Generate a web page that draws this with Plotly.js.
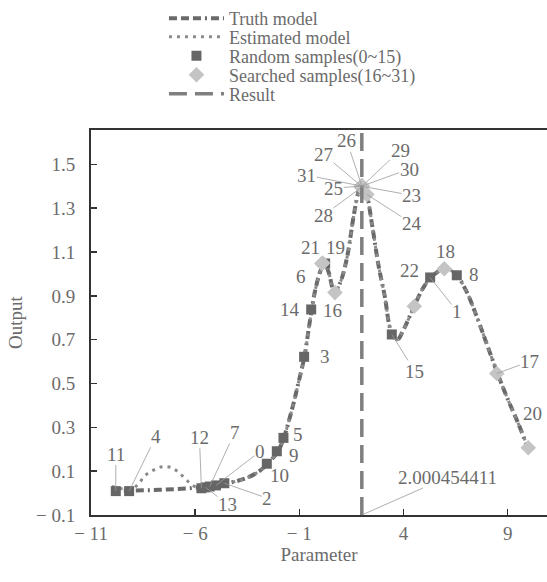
<!DOCTYPE html>
<html>
<head>
<meta charset="utf-8">
<script src="https://cdn.plot.ly/plotly-3.0.1.min.js"></script>
<style>html,body{margin:0;padding:0;background:#fff;overflow:hidden}#chart{width:547px;height:582px}</style>
</head>
<body>
<div id="chart"></div>
<script>
// ---- data ----
var truthX = [-10,-9,-8,-7,-6,-5,-4,-3.5,-3,-2.5,-2,-1.75,-1.5,-1.25,-1,-0.75,-0.5,-0.25,0,0.2,0.4,0.7,1.0,1.3,1.6,1.8,2.0,2.2,2.5,2.8,3.1,3.4,3.7,4.0,4.5,5.0,5.5,6.0,6.5,7.0,7.5,8.0,8.5,9.0,9.5,10.0];
var truthY = [0.012,0.012,0.014,0.018,0.024,0.036,0.055,0.07,0.095,0.135,0.195,0.25,0.33,0.42,0.52,0.625,0.78,0.92,1.01,1.05,1.01,0.915,0.97,1.08,1.26,1.36,1.42,1.38,1.22,1.04,0.9,0.74,0.70,0.745,0.85,0.945,1.0,1.025,1.0,0.925,0.81,0.68,0.55,0.43,0.32,0.2];
var estX = [-10,-9.5,-9,-8.7,-8.4,-8,-7.6,-7.2,-6.8,-6.4,-6,-5,-4,-3.5,-3,-2.5,-2,-1.75,-1.5,-1.25,-1,-0.75,-0.5,-0.25,0,0.2,0.4,0.7,1.0,1.3,1.6,1.8,2.0,2.2,2.5,2.8,3.1,3.4,3.7,4.0,4.5,5.0,5.5,6.0,6.5,7.0,7.5,8.0,8.5,9.0,9.5,10.0];
var estY = [0.03,0.02,0.02,0.045,0.08,0.105,0.12,0.118,0.095,0.058,0.03,0.036,0.055,0.07,0.095,0.135,0.195,0.25,0.33,0.42,0.52,0.625,0.78,0.92,1.01,1.05,1.01,0.915,0.97,1.08,1.26,1.36,1.42,1.38,1.22,1.04,0.9,0.74,0.70,0.745,0.85,0.945,1.0,1.025,1.0,0.925,0.81,0.68,0.55,0.43,0.32,0.2];
var randomIds = [0,1,2,3,4,5,6,7,8,9,10,11,12,13,14,15];
var randomX = [-5.0,5.28,-4.6,-0.77,-9.17,-1.76,0.24,-5.3,6.56,-2.08,-2.56,-9.81,-5.7,-5.5,-0.43,3.44];
var randomY = [0.035,0.984,0.045,0.622,0.009,0.252,1.048,0.03,0.994,0.191,0.134,0.009,0.022,0.026,0.838,0.724];
var searchedIds = [16,17,18,19,20,21,22,23,24,25,26,27,28,29,30,31];
var searchedX = [0.71,8.48,5.96,0.12,9.99,0.08,4.52,2.0,2.24,2.0,2.0,1.99,1.98,2.01,2.01,1.99];
var searchedY = [0.915,0.546,1.024,1.05,0.207,1.048,0.853,1.40,1.363,1.401,1.402,1.40,1.395,1.40,1.401,1.401];
var resultX = 2.000454411;
var resultLabel = "2.000454411";
var resultYSpan = [-0.1, 1.7];
var xTickVals = [-11,-6,-1,4,9];
var xTickText = ["\u2212 11","\u2212 6","\u2212 1","4","9"];
var yTickVals = [-0.1,0.1,0.3,0.5,0.7,0.9,1.1,1.3,1.5];
var yTickText = ["\u2212 0.1","0.1","0.3","0.5","0.7","0.9","1.1","1.3","1.5"];
var legendNames = ["Truth model","Estimated model","Random samples(0~15)","Searched samples(16~31)","Result"];

// ---- label placement (pixel offsets of text from point; third = leader line shown) ----
var labelPos = {
  0:[44,-34,1], 1:[27,34,1], 2:[43,15,1], 3:[21,0,0], 4:[27,-55,1], 5:[15,-3,0], 6:[-24,13,0],
  7:[25,-54,1], 8:[17,-1,0], 9:[17,4,0], 10:[13,12,0], 11:[0,-37,1], 12:[-2,-51,1], 13:[22,17,1],
  14:[-21,0,0], 15:[23,37,1], 16:[-2,18,0], 17:[33,-12,1], 18:[1,-17,0], 19:[13,-16,0],
  20:[4,-34,0], 21:[-11,-16,0], 22:[-5,-36,0], 23:[50,9,1], 24:[45,29,1], 25:[-28,2,1],
  26:[-15,-45,1], 27:[-38,-32,1], 28:[-38,28,1], 29:[38,-36,1], 30:[47,-17,1], 31:[-55,-11,1]
};

var FONT = "Liberation Serif, Times New Roman, serif";
var TXT = "#6b6b6b";

var traces = [
  {x: truthX, y: truthY, name: legendNames[0], mode: "lines", type: "scatter", legend: "legend",
   line: {color: "#6a6a6a", width: 4, dash: "8px,4px,8px,4px,8px,4px,2px,4px", shape: "spline"}},
  {x: estX, y: estY, name: legendNames[1], mode: "lines", type: "scatter", legend: "legend2",
   line: {color: "#8a8a8a", width: 3, dash: "3px,5px", shape: "spline"}},
  {x: randomX, y: randomY, name: legendNames[2], mode: "markers", type: "scatter", legend: "legend3",
   marker: {symbol: "square", size: 10, color: "#666666"}},
  {x: searchedX, y: searchedY, name: legendNames[3], mode: "markers", type: "scatter", legend: "legend4",
   marker: {symbol: "diamond", size: 12, color: "#c4c4c4"}},
  {x: [resultX, resultX], y: resultYSpan, name: legendNames[4], mode: "lines", type: "scatter", legend: "legend5",
   line: {color: "#7f7f7f", width: 3.5, dash: "18px,8px"}}
];

var annotations = [];
function addLabels(ids, xs, ys) {
  for (var i = 0; i < ids.length; i++) {
    var p = labelPos[ids[i]];
    annotations.push({
      x: xs[i], y: ys[i], xref: "x", yref: "y", text: String(ids[i]),
      showarrow: true, ax: p[0], ay: p[1], arrowhead: 0, arrowwidth: 0.8,
      arrowcolor: p[2] ? "#9a9a9a" : "rgba(0,0,0,0)", standoff: 0,
      font: {family: FONT, size: 19, color: TXT}, borderpad: 0
    });
  }
}
addLabels(randomIds, randomX, randomY);
addLabels(searchedIds, searchedX, searchedY);
annotations.push({
  x: resultX, y: resultYSpan[0], xref: "x", yref: "y", text: resultLabel,
  showarrow: true, ax: 86, ay: -38, arrowhead: 0, arrowwidth: 0.8, arrowcolor: "#9a9a9a",
  font: {family: FONT, size: 19, color: TXT}, borderpad: 0
});

function legendAt(py) {
  return {x: 0.16, y: 1 + (130 - py) / 385, xanchor: "left", yanchor: "middle",
          bgcolor: "rgba(0,0,0,0)", font: {family: FONT, size: 18, color: TXT}, itemwidth: 55};
}

var layout = {
  width: 547, height: 582,
  margin: {l: 91, r: 0, t: 130, b: 67},
  paper_bgcolor: "#ffffff", plot_bgcolor: "#ffffff",
  font: {family: FONT, size: 19, color: TXT},
  showlegend: true,
  legend: legendAt(18), legend2: legendAt(37), legend3: legendAt(56), legend4: legendAt(75), legend5: legendAt(94),
  xaxis: {range: [-11, 10.89], tickvals: xTickVals, ticktext: xTickText, showgrid: false, zeroline: false,
          showline: true, linecolor: "#333333", linewidth: 2, mirror: true,
          ticks: "inside", ticklen: 6, tickcolor: "#333333", tickwidth: 1.5,
          title: {text: "Parameter", font: {family: FONT, size: 19, color: TXT}, standoff: 4},
          tickfont: {family: FONT, size: 19, color: TXT}},
  yaxis: {range: [-0.1, 1.657], tickvals: yTickVals, ticktext: yTickText, showgrid: false, zeroline: false,
          showline: true, linecolor: "#333333", linewidth: 2,
          ticks: "inside", ticklen: 6, tickcolor: "#333333", tickwidth: 1.5, ticklabelstandoff: 10,
          title: {text: "Output", font: {family: FONT, size: 19, color: TXT}, standoff: 8},
          tickfont: {family: FONT, size: 19, color: TXT}},
  annotations: annotations
};

Plotly.newPlot("chart", traces, layout, {displayModeBar: false, staticPlot: true});
</script>
</body>
</html>
